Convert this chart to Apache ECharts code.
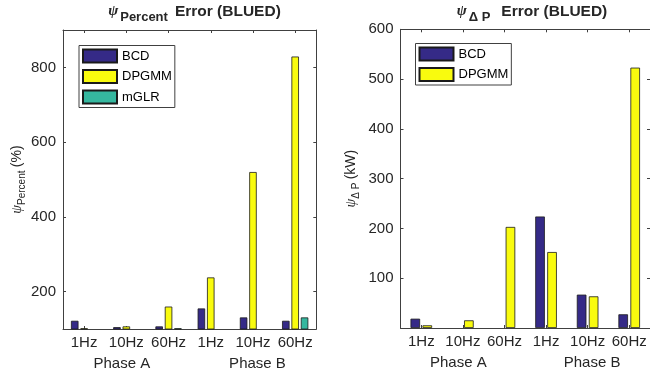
<!DOCTYPE html>
<html>
<head>
<meta charset="utf-8">
<script src="https://cdn.jsdelivr.net/npm/echarts@6/dist/echarts.min.js"></script>
<style>
html, body { margin: 0; padding: 0; background: #fff; }
#main { width: 650px; height: 375px; }
</style>
</head>
<body>
<div id="main"></div>
<script>
// categories
var freqs = ['1Hz', '10Hz', '60Hz', '1Hz', '10Hz', '60Hz'];
var phases = ['Phase A', 'Phase B'];

// psi_Percent error (%), left panel (values under 100 fall below the axis)
var pctBCD = [122, 105, 107, 155, 131, 122];
var pctDPGMM = [102, 107, 160, 238, 520, 829];
var pctMGLR = [null, null, 102, null, null, 131];
var pctTicks = [200, 400, 600, 800];

// psi_deltaP error (kW), right panel
var dpBCD = [18.7, null, null, 224, 67, 27.5];
var dpDPGMM = [5.4, 15.4, 203, 152.6, 63.6, 523];
var dpTicks = [100, 200, 300, 400, 500, 600];

var FONT = '"Liberation Sans", Arial, Helvetica, sans-serif';
var INK = '#262626';
var LINE = '#404040';
var colors = { BCD: '#352a87', DPGMM: '#f9fb0e', mGLR: '#35b79f' };

var chart = echarts.init(document.getElementById('main'));

function titleRich(padSub) {
  return {
    psi: { fontFamily: '"Liberation Serif", serif', fontStyle: 'italic', fontSize: 15, color: INK },
    sub: { fontFamily: FONT, fontWeight: 'bold', fontSize: 13, color: INK, padding: padSub },
    b: { fontFamily: FONT, fontWeight: 'bold', fontSize: 15.5, color: INK }
  };
}
var nameRich = {
  psi: { fontFamily: '"Liberation Serif", serif', fontStyle: 'italic', fontSize: 14, color: INK },
  sub: { fontFamily: FONT, fontSize: 10, color: INK, padding: [10, 0, 0, 0] },
  n: { fontFamily: FONT, fontSize: 14, color: INK }
};

function freqAxis(grid) {
  return {
    type: 'category', gridIndex: grid, data: freqs, position: 'bottom',
    axisLine: { lineStyle: { color: LINE } },
    axisTick: { show: true, inside: true, alignWithLabel: true, length: 3, lineStyle: { color: LINE } },
    axisLabel: { interval: 0, fontFamily: FONT, fontSize: 15, color: INK, margin: 6 }
  };
}
function phaseAxis(grid) {
  return {
    type: 'category', gridIndex: grid, data: phases, position: 'bottom',
    axisLine: { show: false }, axisTick: { show: false },
    axisLabel: {
      interval: 0, margin: 27,
      formatter: function (v) { return v === 'Phase A' ? '{a|' + v + '}' : '{b|' + v + '}'; },
      rich: {
        a: { fontFamily: FONT, fontSize: 15, color: INK, padding: [0, 9, 0, 0] },
        b: { fontFamily: FONT, fontSize: 15, color: INK, padding: [0, 0, 0, 9] }
      }
    }
  };
}
function topAxis(grid) {
  return {
    type: 'category', gridIndex: grid, data: freqs, position: 'top',
    axisLine: { lineStyle: { color: LINE } },
    axisTick: { show: true, inside: true, alignWithLabel: true, interval: 0, length: 3, lineStyle: { color: LINE } },
    axisLabel: { show: false }
  };
}
function valueAxis(grid, pos, min, max, ticks, labels, name, gap) {
  return {
    type: 'value', gridIndex: grid, position: pos, min: min, max: max,
    name: name, nameLocation: 'middle', nameRotate: 90, nameGap: gap,
    nameTextStyle: { rich: nameRich },
    splitLine: { show: false },
    axisLine: { show: true, lineStyle: { color: LINE } },
    axisTick: { show: true, inside: true, length: 3, customValues: ticks, lineStyle: { color: LINE } },
    axisLabel: { show: labels, customValues: ticks, fontFamily: FONT, fontSize: 15, color: INK, margin: 7 }
  };
}
function bars(name, data, xi, yi, width) {
  return {
    name: name, type: 'bar', data: data, xAxisIndex: xi, yAxisIndex: yi,
    barWidth: width, barGap: '25%',
    itemStyle: { color: colors[name], borderColor: '#1a1a1a', borderWidth: 0.8 },
    animation: false
  };
}
function legendBox(names, left, top) {
  return {
    data: names, orient: 'vertical', left: left, top: top, icon: 'rect',
    itemWidth: 34, itemHeight: 13, itemGap: 5.5, padding: [3, 3, 3, 3],
    borderColor: LINE, borderWidth: 1, backgroundColor: '#fff', selectedMode: false,
    textStyle: { fontFamily: FONT, fontSize: 13, color: '#000' }
  };
}

var option = {
  animation: false,
  title: [
    { text: '{psi|ψ}{sub|Percent} {b|Error (BLUED)}', left: 189.5, top: -6, textAlign: 'center',
      textStyle: { rich: titleRich([12, 2, 0, 2]) } },
    { text: '{psi|ψ}{sub|Δ P} {b|Error (BLUED)}', left: 527, top: -6, textAlign: 'center',
      textStyle: { rich: titleRich([12, 6, 0, 2]) } }
  ],
  legend: [
    legendBox(['BCD', 'DPGMM', 'mGLR'], 79, 45.5),
    legendBox(['BCD', 'DPGMM'], 415.5, 43.5)
  ],
  grid: [
    { left: 63, top: 30, width: 253.3, height: 299 },
    { left: 400.5, top: 29.3, width: 253.2, height: 298.7 }
  ],
  xAxis: [
    freqAxis(0), phaseAxis(0), topAxis(0),
    freqAxis(1), phaseAxis(1), topAxis(1)
  ],
  yAxis: [
    valueAxis(0, 'left', 100, 900, pctTicks, true, '{psi|ψ}{sub|Percent} {n|(%)}', 33),
    valueAxis(0, 'right', 100, 900, pctTicks, false, '', 0),
    valueAxis(1, 'left', 0, 600, dpTicks, true, '{psi|ψ}{sub|Δ P} {n|(kW)}', 39),
    valueAxis(1, 'right', 0, 600, dpTicks, false, '', 0)
  ],
  series: [
    bars('BCD', pctBCD, 0, 0, 7.5),
    bars('DPGMM', pctDPGMM, 0, 0, 7.5),
    bars('mGLR', pctMGLR, 0, 0, 7.5),
    bars('BCD', dpBCD, 3, 2, 9.6),
    bars('DPGMM', dpDPGMM, 3, 2, 9.6)
  ]
};

chart.setOption(option);
</script>
</body>
</html>
